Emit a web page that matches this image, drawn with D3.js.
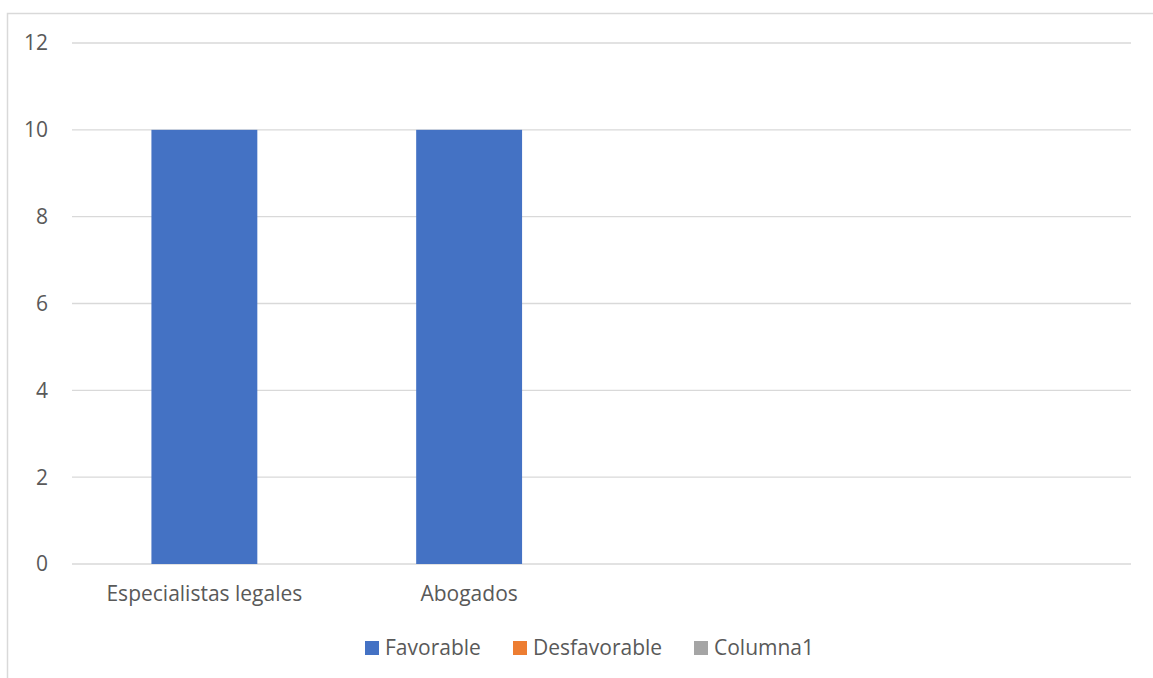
<!DOCTYPE html>
<html>
<head>
<meta charset="utf-8">
<script src="https://cdn.jsdelivr.net/npm/d3@7"></script>
<style>
  body { margin: 0; background: #fff; }
  text { font-family: "Open Sans", sans-serif; fill: #595959; }
</style>
</head>
<body>
<div id="vis"></div>
<script>
// Data
const categories = ["Especialistas legales", "Abogados", "", " "];
const seriesNames = ["Favorable", "Desfavorable", "Columna1"];
const favorable = [10, 10, 0, 0];
const desfavorable = [0, 0, 0, 0];
const columna1 = [0, 0, 0, 0];
const yTicks = [0, 2, 4, 6, 8, 10, 12];
const colors = ["#4472c4", "#ed7d31", "#a5a5a5"];

const W = 1153, H = 678;
const svg = d3.select("#vis").append("svg")
  .attr("width", W)
  .attr("height", H);

// chart border
svg.append("rect")
  .attr("x", 7.5).attr("y", 13.5)
  .attr("width", W + 20).attr("height", H + 20)
  .attr("fill", "none")
  .attr("stroke", "#d9d9d9")
  .attr("stroke-width", 1.5);

const margin = { top: 43, left: 72, right: 22, bottom: 114 };
const width = W - margin.left - margin.right;
const height = H - margin.top - margin.bottom;

const g = svg.append("g")
  .attr("transform", `translate(${margin.left},${margin.top})`);

const x = d3.scaleBand()
  .domain(categories)
  .range([0, width])
  .paddingInner(0.6)
  .paddingOuter(0.3);

const y = d3.scaleLinear()
  .domain([0, 12])
  .range([height, 0]);

// gridlines
g.selectAll("line.grid")
  .data(yTicks)
  .join("line")
  .attr("class", "grid")
  .attr("x1", 0).attr("x2", width)
  .attr("y1", d => y(d)).attr("y2", d => y(d))
  .attr("stroke", "#d9d9d9")
  .attr("stroke-width", 1.3);

// y labels
g.selectAll("text.ytick")
  .data(yTicks)
  .join("text")
  .attr("class", "ytick")
  .attr("x", -24)
  .attr("y", d => y(d))
  .attr("dy", "0.35em")
  .attr("text-anchor", "end")
  .attr("font-size", "21px")
  .text(d => d);

// stacked bars
const rows = categories.map((c, i) => ({
  cat: c,
  Favorable: favorable[i],
  Desfavorable: desfavorable[i],
  Columna1: columna1[i]
}));
const stacked = d3.stack().keys(seriesNames)(rows);

g.selectAll("g.series")
  .data(stacked)
  .join("g")
  .attr("class", "series")
  .attr("fill", (d, i) => colors[i])
  .selectAll("rect")
  .data(d => d.filter(p => p[1] - p[0] > 0))
  .join("rect")
  .attr("x", d => x(d.data.cat))
  .attr("y", d => y(d[1]))
  .attr("width", x.bandwidth())
  .attr("height", d => y(d[0]) - y(d[1]));

// x labels
g.selectAll("text.xtick")
  .data(categories)
  .join("text")
  .attr("class", "xtick")
  .attr("x", d => x(d) + x.bandwidth() / 2)
  .attr("y", height + 37)
  .attr("text-anchor", "middle")
  .attr("font-size", "21px")
  .text(d => d.trim());

// legend
const legendX = [365, 513, 694];
const legend = svg.selectAll("g.legend")
  .data(seriesNames)
  .join("g")
  .attr("class", "legend")
  .attr("transform", (d, i) => `translate(${legendX[i]},641)`);

legend.append("rect")
  .attr("width", 14).attr("height", 14)
  .attr("fill", (d, i) => colors[i]);

legend.append("text")
  .attr("x", 20)
  .attr("y", 7)
  .attr("dy", "0.35em")
  .attr("font-size", "21px")
  .text(d => d);
</script>
</body>
</html>
